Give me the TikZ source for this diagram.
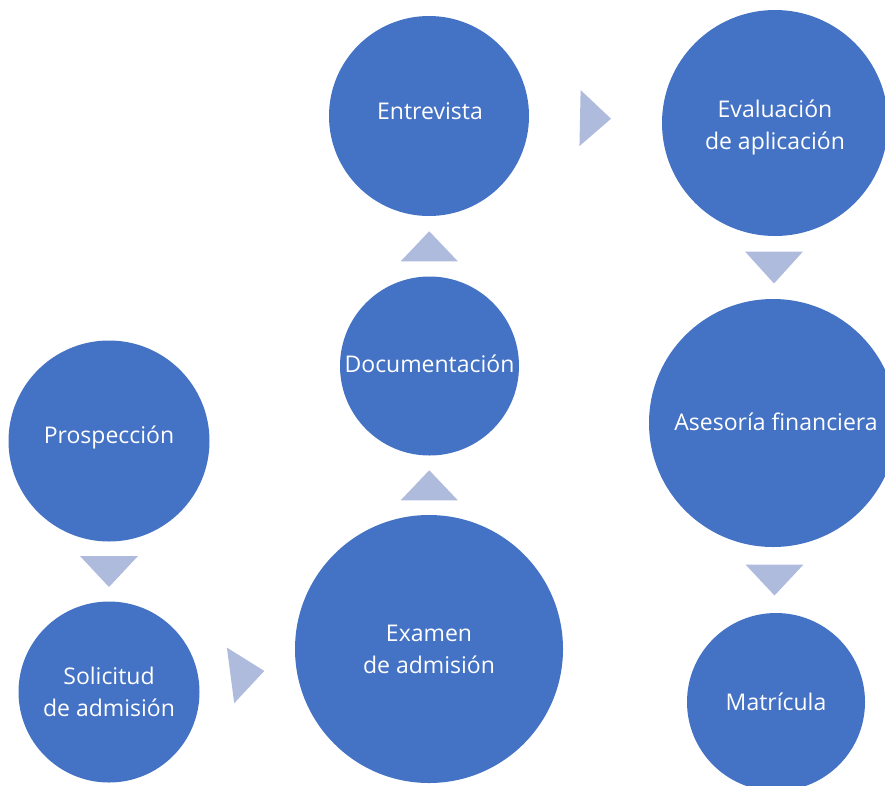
\documentclass[tikz,border=0pt]{standalone}
\usepackage{fontspec}
\setmainfont{Open Sans}
\usetikzlibrary{calc}
\definecolor{circfill}{HTML}{4472C4}
\definecolor{trifill}{HTML}{AFBBDD}
\tikzset{
  stage/.style={circle, fill=circfill, draw=none, inner sep=0pt, text=white,
    align=center, font=\fontsize{23}{32}\selectfont},
  stagetext/.style={inner sep=0pt, text=white, align=center,
    font=\fontsize{23}{32}\selectfont},
  tri/.style={fill=trifill, draw=none}
}
\begin{document}
\begin{tikzpicture}[x=1pt,y=-1pt]
\useasboundingbox (0,0) rectangle (885,785);
\clip (0,0) rectangle (885,785);
\fill[white] (0,0) rectangle (885,785);
% stages
\node[stage, minimum size=201pt] (pro) at (109,441) {};
\node[stagetext] (prot) at (109,437) {Prospección};
\node[stage, minimum size=181pt] (sol) at (109,692) {Solicitud\\de admisión};
\node[stage, minimum size=268pt] (exa) at (429,649) {Examen\\de admisión};
\node[stage, minimum size=179pt] (doc) at (429.5,366) {};
\node[stagetext] (doct) at (429.5,364) {Documentación};
\node[stage, minimum size=200pt] (ent) at (429,116) {};
\node[stagetext] (entt) at (430,111.5) {Entrevista};
\node[stage, minimum size=226pt] (eva) at (775,123) {};
\node[stagetext] (evat) at (775,127.5) {Evaluación\\de aplicación};
\node[stage, minimum size=248pt] (ase) at (773,423) {};
\node[stagetext] (aset) at (776,422) {Asesoría financiera};
\node[stage, minimum size=178pt] (mat) at (776,702) {Matrícula};
% arrow positions
\coordinate (t1) at ($(pro.south)!0.5!(sol.north)$);
\coordinate (t2) at ($(sol.7.5)!0.5!(exa.187.5)$);
\coordinate (t3) at ($(exa.north)!0.5!(doc.south)$);
\coordinate (t4) at ($(doc.north)!0.5!(ent.south)$);
\coordinate (t5) at ($(ent.-1.2)!0.5!(eva.178.8)$);
\coordinate (t6) at ($(eva.south)!0.5!(ase.north)$);
\coordinate (t7) at ($(ase.south)!0.5!(mat.north)$);
% arrows
\fill[tri, shift={(t1)}, rotate=-90] (-15.5,-29) -- (15.5,0) -- (-15.5,29) -- cycle;
\fill[tri, shift={(t2)}, rotate=7.5] (-17,-28) -- (17,0) -- (-17,28) -- cycle;
\fill[tri, shift={(t3)}, rotate=90] (-15,-28.5) -- (15,0) -- (-15,28.5) -- cycle;
\fill[tri, shift={(t4)}, rotate=90] (-15,-28.5) -- (15,0) -- (-15,28.5) -- cycle;
\fill[tri, shift={(t5)}, rotate=-1.2] (-15.5,-28) -- (15.5,0) -- (-15.5,28) -- cycle;
\fill[tri, shift={(t6)}, rotate=-90] (-16,-29) -- (16,0) -- (-16,29) -- cycle;
\fill[tri, shift={(t7)}, rotate=-90] (-15.5,-29) -- (15.5,0) -- (-15.5,29) -- cycle;
\end{tikzpicture}
\end{document}
